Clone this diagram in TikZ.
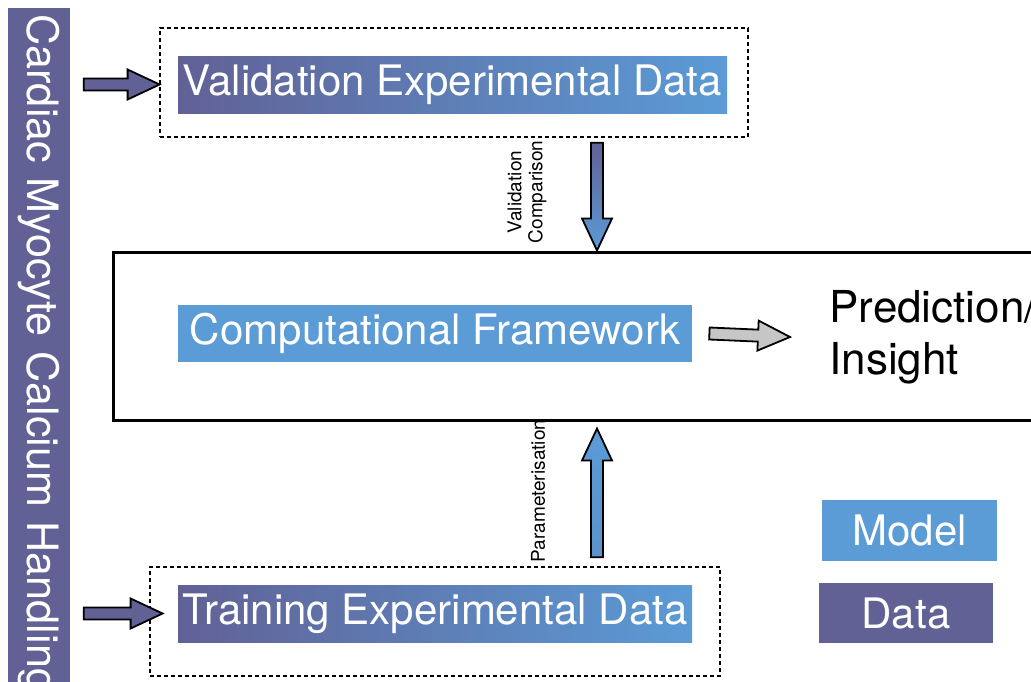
\documentclass[tikz,border=0pt]{standalone}
\usepackage{fontspec}
\setmainfont{TeX Gyre Heros}
\usetikzlibrary{calc}
\definecolor{datacol}{RGB}{97,97,150}
\definecolor{modelcol}{RGB}{91,155,214}
\newcommand{\blockarrow}[3][]{%
  \coordinate (ba-h) at ($(#3)!16pt!(#2)$);
  \draw[#1] ($(#2)!3pt!90:(#3)$) -- ($(ba-h)!3pt!-90:(#2)$) -- ($(ba-h)!7.5pt!-90:(#2)$) -- (#3)
    -- ($(ba-h)!7.5pt!90:(#2)$) -- ($(ba-h)!3pt!90:(#2)$) -- ($(#2)!3pt!-90:(#3)$) -- cycle;}

\begin{document}
\begin{tikzpicture}[x=0.5pt, y=-0.5pt,
    lab/.style={text=white, font=\fontsize{21}{25}\selectfont, minimum height=28.5pt, inner sep=0pt},
    datalab/.style={lab, fill=datacol},
    modellab/.style={lab, fill=modelcol},
    mixlab/.style={lab, left color=datacol, middle color=datacol!80!modelcol, right color=modelcol},
    outline/.style={draw, dash pattern=on 2pt off 1.5pt, line width=0.7pt},
    tagtext/.style={font=\fontsize{9.5}{10.5}\selectfont, rotate=90, align=center, inner sep=0pt},
    barrow/.style={draw=black, line width=0.9pt}]
  \path[use as bounding box, clip] (0,0) rectangle (1031,681);
  \node[datalab, rotate=-90, anchor=south west, minimum width=350pt, minimum height=31pt,
    text width=344pt, inner xsep=3pt, align=left, font=\fontsize{21.6}{25}\selectfont] (bar) at (8,8)
    {Cardiac Myocyte Calcium Handling};
  \node[outline, minimum width=294pt, minimum height=54.5pt] (valout) at (454,82.5) {};
  \node[mixlab, minimum width=274.5pt] (vallab) at (452.5,84.5) {Validation Experimental Data};
  \node[draw, line width=1.5pt, minimum width=484pt, minimum height=84pt] (main) at (597,336) {};
  \node[modellab, minimum width=257pt] (comp) at (435,333.5) {Computational Framework};
  \node[anchor=west, align=left, inner sep=0pt, font=\fontsize{22}{26}\selectfont] (pred) at (829,337) {Prediction/\\Insight};
  \node[outline, minimum width=285pt, minimum height=54.5pt] (trainout) at (435,621.5) {};
  \node[mixlab, minimum width=257pt] (trainlab) at (435,613.5) {Training Experimental Data};
  \node[modellab, minimum width=87.5pt, minimum height=30.5pt] (model) at (909.5,530.5) {Model};
  \node[datalab, minimum width=87pt, minimum height=30pt] (data) at (906,613) {Data};
  \node[tagtext] (valtag) at (527,192) {Validation\\Comparison};
  \node[tagtext] (partag) at (538,491) {Parameterisation};

  \coordinate (v1) at ([xshift=6.5pt]bar.north |- vallab.west);
  \coordinate (v2) at ([xshift=-9pt]vallab.west);
  \coordinate (t1) at ([xshift=6.5pt]bar.north |- trainlab.west);
  \coordinate (t2) at ([xshift=-7.5pt]trainlab.west);
  \coordinate (c1) at ([xshift=8.5pt]comp.east);
  \coordinate (c2) at ([xshift=-19.5pt]pred.west);
  \coordinate (d1) at ([yshift=-2.5pt]valout.south -| main.north);
  \coordinate (u1) at ([yshift=4.5pt]trainout.north -| main.south);
  \coordinate (u2) at ([yshift=-3.5pt]main.south);
  \blockarrow[barrow, fill=datacol]{v1}{v2}
  \blockarrow[barrow, fill=datacol]{t1}{t2}
  \blockarrow[barrow, fill=gray!45]{c1}{c2}
  \blockarrow[barrow, top color=datacol, bottom color=modelcol]{d1}{main.north}
  \blockarrow[barrow, top color=modelcol, bottom color=modelcol!85!datacol]{u1}{u2}
\end{tikzpicture}
\end{document}
